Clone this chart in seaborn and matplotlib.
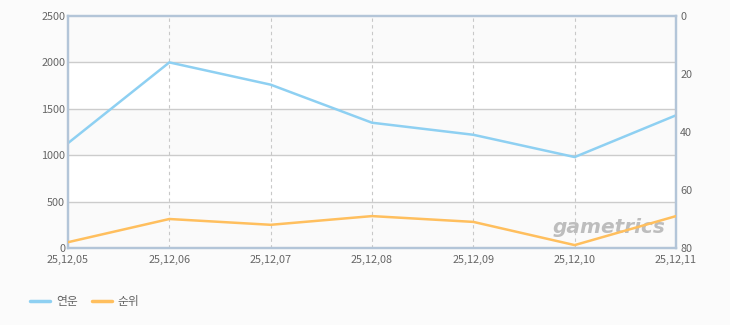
import matplotlib
matplotlib.use("Agg")
import matplotlib.pyplot as plt
import seaborn as sns
import pandas as pd
from matplotlib.lines import Line2D

dates = ["25,12,05", "25,12,06", "25,12,07", "25,12,08", "25,12,09", "25,12,10", "25,12,11"]
visitors = [1130, 2000, 1760, 1350, 1220, 980, 1430]
ranks = [78, 70, 72, 69, 71, 79, 69]
left_ticks = [0, 500, 1000, 1500, 2000, 2500]
right_ticks = [0, 20, 40, 60, 80]
series_names = ["연운", "순위"]

sns.set_style("white")
plt.rcParams['font.family'] = ['Noto Sans CJK KR', 'DejaVu Sans']

BLUE = "#8ed0f2"
ORANGE = "#ffbf5e"
TXT = "#666666"
SPINE = "#b3c5d8"

df = pd.DataFrame({"date": dates, "visitors": visitors, "rank": ranks})

fig = plt.figure(figsize=(7.3, 3.25), dpi=100)
fig.patch.set_facecolor("#fbfbfb")
ax = fig.add_axes([68/730, 77/325, 608/730, 232/325])
ax.set_facecolor("white")

# alternating bands
for i, (lo, hi) in enumerate(zip(left_ticks[:-1], left_ticks[1:])):
    ax.axhspan(lo, hi, color="#fafafa" if i % 2 == 0 else "white", zorder=0, lw=0)

sns.lineplot(data=df, x="date", y="visitors", ax=ax, color=BLUE, lw=1.8, sort=False, zorder=3)
ax.set_ylim(0, 2500)
ax.set_xlim(0, len(dates) - 1)
ax.set_yticks(left_ticks)
ax.set_xticks(range(len(dates)))
ax.set_xticklabels(dates)
ax.set_xlabel("")
ax.set_ylabel("")
for y in left_ticks[1:-1]:
    ax.axhline(y, color="#cccccc", lw=1, zorder=1)
for x in range(1, len(dates) - 1):
    ax.axvline(x, color="#c8c8c8", lw=0.8, ls=(0, (3, 3)), zorder=1)

ax2 = ax.twinx()
sns.lineplot(data=df, x="date", y="rank", ax=ax2, color=ORANGE, lw=1.8, sort=False, zorder=3)
ax2.set_ylim(80, 0)
ax2.set_yticks(right_ticks)
ax2.set_xlim(0, len(dates) - 1)
ax2.set_ylabel("")

for a in (ax, ax2):
    a.tick_params(length=0, colors=TXT, labelsize=7.8)
    for s in a.spines.values():
        s.set_color(SPINE)
        s.set_linewidth(1.6)
ax.tick_params(axis="y", pad=2)
ax.tick_params(axis="x", pad=5)
ax2.tick_params(axis="y", pad=3)

# watermark
ax.text(0.982, 0.09, "gametrics", transform=ax.transAxes, ha="right", va="center",
        fontsize=14.5, fontstyle="italic", fontweight="bold", color="#bdbdbd",
        family="DejaVu Sans", zorder=2)

handles = [Line2D([], [], color=BLUE, lw=2.5), Line2D([], [], color=ORANGE, lw=2.5)]
fig.legend(handles, series_names, loc="center left", bbox_to_anchor=(30/730, 23/325),
           frameon=False, ncol=2, fontsize=8.5, labelcolor=TXT, handlelength=1.7,
           handletextpad=0.5, columnspacing=1.2, borderpad=0, borderaxespad=0)

fig.savefig("out.png", dpi=100, facecolor=fig.get_facecolor())
